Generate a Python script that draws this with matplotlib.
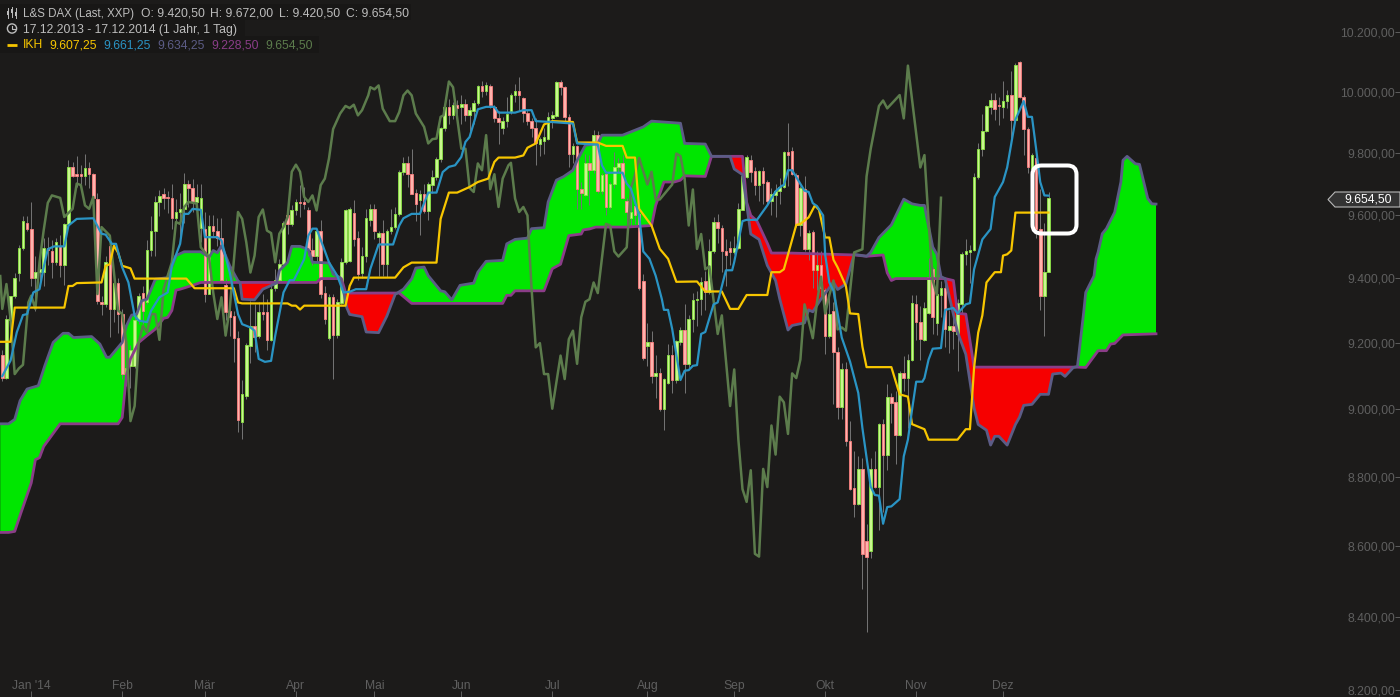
import matplotlib
matplotlib.use("Agg")
import matplotlib.pyplot as plt
import numpy as np
from matplotlib.patches import Circle, FancyBboxPatch, Polygon, Rectangle
from matplotlib.ticker import NullLocator
from matplotlib.transforms import Affine2D

plt.rcParams["font.family"] = ["Liberation Sans", "DejaVu Sans"]

# --- Candles (L&S DAX, one per session) ---
opens = [
    9165, 9095, 9270, 9345, 9415, 9495, 9575, 9555, 9400, 9420,
    9420, 9495, 9485, 9450, 9500, 9440, 9570, 9755, 9730, 9730,
    9725, 9750, 9730, 9650, 9325, 9320, 9500, 9305, 9385, 9290,
    9100, 9130, 9130, 9270, 9355, 9325, 9490, 9550, 9640, 9665,
    9658, 9655, 9590, 9610, 9620, 9700, 9685, 9640, 9558, 9555,
    9350, 9565, 9550, 9525, 9380, 9297, 9282, 9217, 8962, 9040,
    9192, 9253, 9223, 9294, 9294, 9210, 9369, 9395, 9445, 9600,
    9570, 9615, 9642, 9640, 9616, 9490, 9470, 9550, 9354, 9217,
    9342, 9225, 9323, 9452, 9455, 9606, 9527, 9416, 9469, 9582,
    9619, 9531, 9543, 9444, 9547, 9561, 9603, 9737, 9765, 9731,
    9670, 9646, 9665, 9611, 9695, 9722, 9778, 9879, 9950, 9922,
    9957, 9948, 9961, 9922, 9935, 9963, 10019, 10003, 10019, 9950,
    9914, 9881, 9902, 9935, 9988, 10004, 9979, 9930, 9902, 9881,
    9828, 9838, 9843, 9914, 9921, 10033, 10017, 9918, 9795, 9822,
    9684, 9663, 9768, 9743, 9858, 9676, 9732, 9625, 9700, 9752,
    9768, 9645, 9590, 9628, 9601, 9390, 9190, 9202, 9100, 9108,
    9002, 9080, 9163, 9088, 9204, 9241, 9135, 9274, 9331, 9336,
    9390, 9357, 9487, 9577, 9559, 9485, 9496, 9483, 9496, 9615,
    9720, 9777, 9740, 9696, 9740, 9705, 9645, 9663, 9675, 9690,
    9801, 9806, 9729, 9568, 9681, 9492, 9545, 9425, 9442, 9365,
    9223, 9300, 9172, 9007, 9121, 8907, 8768, 8721, 8824, 8616,
    8587, 8825, 8771, 8955, 8864, 9038, 9021, 8924, 9110, 9093,
    9150, 9319, 9266, 9211, 9293, 9430, 9262, 9348, 9370, 9240,
    9251, 9228, 9319, 9477, 9483, 9489, 9720, 9812, 9872, 9951,
    9972, 9956, 9951, 9969, 9989, 9906, 10100, 9984, 9878, 9748,
    9782, 9554, 9344, 9420.5,
]
highs = [
    9180, 9285, 9345, 9415, 9505, 9595, 9595, 9640, 9470, 9480,
    9525, 9530, 9520, 9525, 9535, 9575, 9775, 9770, 9790, 9760,
    9795, 9770, 9735, 9670, 9345, 9470, 9520, 9400, 9400, 9305,
    9130, 9195, 9280, 9355, 9375, 9520, 9595, 9660, 9680, 9685,
    9675, 9700, 9650, 9670, 9735, 9710, 9715, 9700, 9700, 9610,
    9598, 9600, 9590, 9590, 9400, 9340, 9300, 9238, 9087, 9200,
    9330, 9320, 9325, 9350, 9335, 9385, 9430, 9460, 9580, 9635,
    9630, 9650, 9695, 9690, 9625, 9525, 9555, 9582, 9375, 9350,
    9350, 9335, 9465, 9620, 9625, 9648, 9550, 9497, 9620, 9635,
    9635, 9550, 9584, 9555, 9620, 9625, 9745, 9786, 9790, 9813,
    9682, 9680, 9700, 9705, 9745, 9785, 9885, 9965, 9977, 9965,
    9972, 9988, 9975, 9950, 9972, 10023, 10037, 10033, 10025, 9955,
    9935, 9917, 9982, 9995, 10027, 10048, 9982, 9940, 9912, 9912,
    9850, 9880, 9932, 9935, 10036, 10040, 10020, 9925, 9830, 9826,
    9705, 9797, 9792, 9875, 9870, 9735, 9742, 9705, 9802, 9782,
    9792, 9655, 9660, 9635, 9610, 9413, 9263, 9238, 9163, 9125,
    9095, 9197, 9195, 9210, 9250, 9320, 9285, 9353, 9359, 9405,
    9422, 9522, 9592, 9604, 9568, 9522, 9516, 9534, 9639, 9735,
    9792, 9792, 9752, 9745, 9752, 9712, 9687, 9699, 9719, 9806,
    9896, 9818, 9735, 9693, 9723, 9551, 9551, 9487, 9487, 9370,
    9348, 9325, 9189, 9139, 9144, 8966, 8877, 8861, 8857, 8665,
    8855, 8877, 8960, 8971, 9077, 9049, 9055, 9115, 9161, 9166,
    9348, 9348, 9314, 9325, 9463, 9435, 9370, 9393, 9393, 9302,
    9302, 9336, 9482, 9522, 9505, 9735, 9832, 9926, 9957, 9996,
    9996, 9981, 10035, 10005, 10070, 10095, 10102, 9990, 9884, 9800,
    9790, 9683, 9574, 9672,
]
lows = [
    9085, 9090, 9210, 9340, 9390, 9490, 9550, 9375, 9300, 9380,
    9375, 9440, 9400, 9440, 9405, 9380, 9560, 9720, 9690, 9700,
    9695, 9685, 9620, 9320, 9285, 9310, 9220, 9265, 9230, 9090,
    9070, 9065, 9125, 9260, 9260, 9320, 9470, 9470, 9595, 9620,
    9605, 9555, 9570, 9530, 9575, 9625, 9610, 9620, 9515, 9325,
    9350, 9530, 9500, 9390, 9270, 9222, 9143, 8932, 8912, 9030,
    9140, 9174, 9215, 9270, 9180, 9205, 9360, 9385, 9440, 9540,
    9565, 9600, 9592, 9620, 9470, 9440, 9450, 9340, 9260, 9210,
    9090, 9215, 9320, 9445, 9450, 9500, 9395, 9400, 9450, 9566,
    9522, 9407, 9407, 9405, 9538, 9555, 9595, 9727, 9690, 9665,
    9580, 9535, 9605, 9585, 9670, 9710, 9770, 9870, 9895, 9910,
    9915, 9895, 9905, 9870, 9895, 9955, 9982, 9990, 9945, 9900,
    9828, 9860, 9885, 9925, 9966, 9935, 9900, 9890, 9850, 9760,
    9790, 9795, 9840, 9880, 9915, 9990, 9900, 9755, 9765, 9620,
    9620, 9660, 9630, 9735, 9670, 9665, 9598, 9620, 9685, 9738,
    9650, 9565, 9560, 9570, 9365, 9150, 9130, 9080, 9035, 8995,
    8940, 9075, 9050, 9080, 9195, 9050, 9125, 9234, 9251, 9285,
    9302, 9350, 9480, 9510, 9419, 9376, 9440, 9475, 9492, 9615,
    9717, 9705, 9663, 9645, 9633, 9633, 9598, 9592, 9633, 9685,
    9692, 9729, 9562, 9534, 9485, 9457, 9370, 9365, 9336, 9166,
    9217, 9016, 8971, 8971, 8890, 8763, 8684, 8718, 8479, 8358,
    8566, 8768, 8647, 8700, 8820, 8960, 8839, 8920, 9055, 8944,
    9145, 9211, 9150, 9205, 9290, 9229, 9225, 9280, 9189, 9170,
    9183, 9116, 9291, 9440, 9384, 9485, 9716, 9788, 9866, 9927,
    9908, 9890, 9914, 9945, 9842, 9900, 9980, 9792, 9734, 9740,
    9525, 9303, 9223, 9420.5,
]
closes = [
    9095, 9275, 9345, 9400, 9495, 9580, 9555, 9400, 9420, 9430,
    9495, 9490, 9450, 9515, 9440, 9570, 9755, 9725, 9725, 9725,
    9750, 9730, 9655, 9330, 9320, 9450, 9305, 9385, 9290, 9105,
    9125, 9180, 9270, 9345, 9300, 9490, 9550, 9640, 9660, 9655,
    9653, 9590, 9610, 9620, 9700, 9685, 9640, 9657, 9655, 9350,
    9565, 9550, 9525, 9395, 9295, 9280, 9217, 8968, 9047, 9195,
    9253, 9220, 9295, 9288, 9210, 9368, 9395, 9445, 9575, 9570,
    9615, 9640, 9637, 9635, 9490, 9470, 9550, 9350, 9274, 9342,
    9225, 9325, 9452, 9614, 9619, 9523, 9413, 9469, 9590, 9619,
    9547, 9543, 9444, 9548, 9561, 9603, 9737, 9765, 9730, 9668,
    9633, 9665, 9611, 9697, 9722, 9778, 9881, 9950, 9922, 9957,
    9946, 9961, 9922, 9938, 9964, 10019, 10003, 10023, 9955, 9914,
    9900, 9902, 9928, 9988, 10004, 9988, 9930, 9902, 9881, 9830,
    9845, 9850, 9915, 9923, 10033, 10015, 9918, 9795, 9822, 9682,
    9671, 9768, 9743, 9858, 9676, 9727, 9625, 9700, 9752, 9768,
    9655, 9609, 9610, 9598, 9370, 9154, 9202, 9100, 9108, 9002,
    9090, 9163, 9088, 9205, 9241, 9135, 9274, 9331, 9336, 9388,
    9357, 9487, 9577, 9557, 9485, 9472, 9483, 9496, 9618, 9723,
    9785, 9738, 9696, 9740, 9702, 9645, 9665, 9677, 9690, 9801,
    9792, 9732, 9568, 9687, 9492, 9541, 9426, 9442, 9370, 9223,
    9289, 9172, 9007, 9121, 8907, 8765, 8721, 8824, 8577, 8571,
    8825, 8771, 8955, 8864, 9038, 9019, 8924, 9110, 9093, 9150,
    9323, 9265, 9214, 9309, 9405, 9280, 9350, 9370, 9242, 9251,
    9237, 9323, 9477, 9485, 9489, 9720, 9813, 9872, 9953, 9972,
    9942, 9953, 9969, 9989, 9906, 10090, 9984, 9878, 9752, 9791,
    9556, 9344, 9420, 9654.5,
]

# --- Ichimoku lines: session number and price at each corner ---
tenkan_x = [0, 2, 3.5, 5, 6, 7.5, 9, 10, 11, 12.5, 15, 16, 18, 22, 24, 25, 26.5, 27.5, 29, 30.5, 32, 33, 35, 36, 38, 40, 41, 43, 44, 45, 46, 48, 49, 52, 53, 55, 57, 58, 60, 61, 62, 63.5, 65, 66, 68, 69.5, 70.5, 73, 74, 75, 76, 79, 81, 82.5, 84, 85.5, 88, 89, 91, 94.5, 96, 97, 99, 101, 103, 105, 106.5, 108, 109.5, 111, 112, 113, 115, 117, 119, 120, 124, 126, 128, 129, 133, 138, 139, 144, 145, 146, 150, 151, 152, 154, 155, 156.5, 158, 159.5, 160, 161, 162, 164, 165, 166, 167, 168, 169, 170, 172, 173, 175, 176.5, 177, 179, 180, 182.5, 185, 187, 188.5, 189, 190, 191, 194, 195, 196, 197, 198.5, 199, 200, 201, 202, 203, 205, 207, 208, 210, 211, 212, 213, 214, 215, 217, 218, 219, 220, 221, 222.5, 223, 224, 225, 227, 228, 230, 231, 233, 234, 235, 237, 239, 240, 242, 243, 245, 247, 248, 249, 250, 251, 252, 253]
tenkan_y = [9100, 9147, 9233, 9286, 9289, 9356, 9366, 9434, 9491, 9500, 9500, 9566, 9587, 9589, 9540, 9537, 9508, 9508, 9434, 9387, 9284, 9269, 9264, 9300, 9341, 9356, 9439, 9508, 9603, 9603, 9619, 9616, 9529, 9529, 9519, 9418, 9289, 9258, 9248, 9238, 9152, 9143, 9146, 9223, 9356, 9394, 9394, 9460, 9534, 9556, 9556, 9450, 9408, 9356, 9358, 9366, 9366, 9429, 9506, 9506, 9566, 9589, 9603, 9603, 9671, 9671, 9737, 9754, 9759, 9786, 9835, 9851, 9942, 9950, 9950, 9931, 9931, 9939, 9939, 9903, 9900, 9895, 9830, 9826, 9759, 9735, 9735, 9700, 9684, 9598, 9484, 9461, 9408, 9335, 9302, 9302, 9243, 9088, 9116, 9118, 9131, 9133, 9228, 9234, 9319, 9325, 9425, 9425, 9451, 9580, 9584, 9584, 9630, 9675, 9693, 9695, 9743, 9743, 9677, 9673, 9637, 9628, 9598, 9473, 9387, 9361, 9291, 9217, 9144, 9049, 8944, 8772, 8748, 8746, 8665, 8713, 8715, 8736, 8861, 8910, 8999, 9083, 9083, 9094, 9150, 9183, 9185, 9302, 9308, 9291, 9319, 9323, 9428, 9522, 9555, 9657, 9705, 9752, 9908, 9969, 9917, 9917, 9813, 9705, 9662, 9661.25]

kijun_x = [-0.5, 2, 3, 15, 16, 17, 18, 24, 25, 26, 27, 28, 29, 31, 32, 44.5, 46.5, 56, 57, 58, 69, 70, 71, 72, 73, 82, 83, 84, 85, 95, 97, 99, 105, 106, 108, 110, 113, 115, 117.5, 119, 120, 124, 126, 127, 129, 131, 133, 138, 139, 144, 146, 150, 151, 153, 154, 157, 159, 161, 163, 168, 170, 174, 176, 178, 180, 185, 186, 188, 189, 192, 193, 195, 196.5, 197.5, 199, 200, 201, 202, 204, 205, 207, 208, 209, 215, 217, 219, 220, 223, 224, 231, 233, 234, 235, 236, 237, 238, 240, 241.5, 242, 243, 244, 245, 248, 253]
kijun_y = [9204, 9204, 9309, 9309, 9376, 9376, 9385, 9387, 9439, 9444, 9502, 9480, 9439, 9431, 9399, 9399, 9369, 9369, 9325, 9322, 9322, 9315, 9315, 9303, 9315, 9315, 9315, 9376, 9402, 9402, 9434, 9449, 9449, 9587, 9671, 9671, 9689, 9705, 9716, 9770, 9784, 9784, 9791, 9816, 9830, 9892, 9903, 9900, 9833, 9833, 9822, 9822, 9784, 9784, 9619, 9566, 9492, 9461, 9389, 9390, 9359, 9359, 9305, 9305, 9348, 9348, 9419, 9419, 9428, 9568, 9571, 9592, 9630, 9616, 9528, 9528, 9458, 9434, 9376, 9291, 9289, 9189, 9127, 9127, 9045, 9038, 8956, 8941, 8910, 8910, 8941, 8941, 9125, 9232, 9285, 9387, 9419, 9419, 9471, 9475, 9487, 9607, 9607, 9607.25]

chikou_x = [-0.5, 0, 1, 2, 3, 4, 5, 6.3, 7, 8, 9, 10, 11, 12, 14, 15, 17, 18, 19, 20, 21, 22, 23, 24, 26, 27, 28, 29, 30, 31, 32, 33, 34, 35, 36, 37, 38, 39, 41, 42, 43, 44, 45, 47, 48, 50, 51, 52, 53, 54, 55, 57, 58, 59, 60, 61, 62, 63, 64, 65, 66, 67, 68, 69, 70, 71, 72, 73, 74, 75, 76, 77, 78, 79, 80, 81.7, 83, 84, 85, 86, 87, 88.5, 89, 90, 91, 92, 93.7, 95, 96, 97, 98, 99, 100, 102, 103, 104, 105, 106, 106.7, 108, 109, 111, 112, 113, 114, 115, 116, 117, 118, 119, 120, 121, 122.4, 123, 124, 125, 126, 127, 128, 129, 130, 131, 132, 133, 135, 136, 137, 138, 139, 140, 141, 142, 143, 144, 146, 147, 148, 149, 151, 152, 153, 154, 156, 157, 158, 159, 162, 163, 164, 165, 166, 167, 168, 169, 170, 171, 173, 174, 176, 177, 178, 179, 180, 181, 182, 183, 184, 185, 186, 187, 188, 189, 190, 191, 192, 193, 194, 195, 196, 197, 198, 199, 200, 201, 202, 203, 204, 206, 208, 209, 210, 212, 213, 214, 217, 218, 219, 222, 223, 224, 225, 226, 227]
chikou_y = [9407, 9305, 9382, 9274, 9106, 9123, 9134, 9325, 9346, 9305, 9450, 9550, 9638, 9662, 9654, 9593, 9619, 9700, 9695, 9630, 9619, 9657, 9351, 9561, 9534, 9418, 9300, 9289, 9202, 8965, 9010, 9202, 9253, 9233, 9289, 9289, 9210, 9366, 9450, 9577, 9571, 9625, 9641, 9636, 9497, 9466, 9356, 9274, 9341, 9223, 9305, 9609, 9587, 9513, 9418, 9471, 9593, 9617, 9550, 9542, 9450, 9540, 9561, 9593, 9738, 9761, 9738, 9657, 9641, 9662, 9614, 9695, 9716, 9781, 9877, 9928, 9953, 9946, 9957, 9922, 9939, 9988, 10015, 10008, 10021, 9944, 9903, 9903, 9933, 9988, 10004, 9988, 9928, 9884, 9830, 9844, 9846, 9917, 9922, 10034, 10015, 9813, 9813, 9686, 9673, 9765, 9743, 9857, 9682, 9730, 9625, 9716, 9759, 9767, 9652, 9609, 9625, 9598, 9366, 9187, 9200, 9106, 9106, 9002, 9162, 9091, 9212, 9238, 9137, 9279, 9327, 9335, 9387, 9354, 9571, 9566, 9484, 9468, 9497, 9684, 9727, 9783, 9697, 9738, 9649, 9649, 9697, 9797, 9789, 9716, 9566, 9681, 9492, 9539, 9428, 9437, 9228, 9285, 9010, 9120, 8910, 8765, 8728, 8820, 8579, 8571, 8824, 8771, 8952, 8866, 9038, 9021, 8927, 9108, 9094, 9150, 9319, 9268, 9215, 9325, 9405, 9291, 9348, 9393, 9242, 9248, 9238, 9481, 9491, 9723, 9812, 9953, 9971, 9945, 9989, 9912, 10087, 9752, 9792, 9580, 9393, 9348, 9654.5]

span_a_x = [-0.5, 1.5, 3, 4.3, 6, 8.7, 10.3, 12.3, 14.7, 16, 17.2, 21.6, 23.6, 25.2, 26, 29, 30, 31.3, 32.5, 33.7, 35, 37, 40, 42, 44, 48, 50, 51, 52, 53, 55, 57, 57.5, 58, 61, 63, 66.3, 67, 69, 70, 72, 74, 75, 79, 80, 81.7, 82.6, 83.3, 84, 87, 88, 91, 93, 95, 97, 99, 100, 102, 103, 106, 107, 108.7, 109, 110.7, 114, 115, 117, 121, 122, 124, 127, 128, 131, 132, 134, 135.7, 138, 139, 141, 144, 145, 150, 153, 155, 157, 164, 165, 170, 171.5, 176, 177, 179, 181, 183, 185, 187, 188, 190, 191, 194, 195, 196, 198, 201, 202, 204, 206, 209, 210, 212, 215, 218, 220, 222, 223, 225, 226, 227, 228, 231, 233, 235, 236, 238, 239, 240, 241, 243, 245, 246, 247, 249, 251, 253, 254, 256, 257, 259, 260, 261.5, 262, 264, 264.5, 265, 266, 267, 269, 270.5, 271, 272, 274, 275, 277, 278, 279]
span_a_y = [8957, 8957, 8970, 9026, 9061, 9071, 9132, 9202, 9230, 9230, 9217, 9220, 9197, 9157, 9157, 9202, 9253, 9286, 9289, 9330, 9335, 9397, 9402, 9471, 9483, 9483, 9466, 9487, 9480, 9502, 9439, 9392, 9387, 9335, 9333, 9366, 9385, 9424, 9450, 9500, 9500, 9490, 9450, 9448, 9413, 9402, 9355, 9309, 9288, 9281, 9234, 9232, 9283, 9350, 9366, 9398, 9432, 9435, 9408, 9361, 9358, 9333, 9340, 9378, 9385, 9419, 9453, 9456, 9508, 9522, 9526, 9556, 9559, 9641, 9711, 9722, 9743, 9775, 9824, 9830, 9857, 9857, 9873, 9884, 9903, 9896, 9830, 9828, 9788, 9788, 9747, 9729, 9539, 9522, 9440, 9393, 9336, 9240, 9254, 9262, 9302, 9296, 9336, 9388, 9365, 9382, 9475, 9469, 9481, 9528, 9568, 9650, 9635, 9630, 9630, 9498, 9475, 9405, 9399, 9234, 9166, 9004, 8955, 8938, 8894, 8920, 8920, 8894, 8955, 8977, 9012, 9015, 9045, 9045, 9106, 9109, 9099, 9126, 9129, 9294, 9356, 9407, 9461, 9482, 9540, 9556, 9608, 9705, 9775, 9788, 9764, 9762, 9652, 9635, 9634.25]

span_b_x = [-0.5, 1.5, 3, 4.5, 7, 8, 9, 10, 14, 28, 29, 30, 31, 33, 35, 37, 39, 40, 41, 42, 43, 46, 48, 76, 77, 82, 83, 84, 96, 99, 121, 122, 123, 124, 131, 133, 135, 137, 140, 140.5, 142, 143.5, 151, 157, 158, 160, 162.5, 164, 165, 170, 171.5, 179, 180, 181, 182.5, 185, 186, 190.5, 206, 209, 213, 214, 215, 216, 228, 230, 231, 233, 235, 260, 262, 265, 267, 268, 269, 271, 279]
span_b_y = [8640, 8640, 8643, 8696, 8783, 8851, 8857, 8890, 8957, 8957, 8976, 9101, 9152, 9202, 9223, 9243, 9276, 9279, 9300, 9363, 9366, 9378, 9387, 9387, 9399, 9399, 9356, 9354, 9354, 9322, 9322, 9347, 9347, 9361, 9361, 9430, 9444, 9534, 9539, 9552, 9555, 9561, 9561, 9566, 9630, 9705, 9705, 9711, 9725, 9723, 9788, 9788, 9640, 9598, 9580, 9510, 9479, 9479, 9473, 9469, 9473, 9417, 9393, 9399, 9399, 9393, 9291, 9289, 9127, 9127, 9126, 9177, 9177, 9197, 9199, 9225, 9228.5]

# --- Axis labels ---
price_ticks = [10200, 10000, 9800, 9600, 9400, 9200, 9000, 8800, 8600, 8400, 8200]
month_ticks = [7, 29, 49, 71, 90, 111, 133, 156, 177, 199, 221, 242]
month_labels = ["Jan '14", "Feb", "Mär", "Apr", "Mai", "Jun", "Jul", "Aug", "Sep", "Okt", "Nov", "Dez"]
last_close = 9654.5
ikh_values = ["9.607,25", "9.661,25", "9.634,25", "9.228,50", "9.654,50"]

# --- Colours ---
BG = "#1c1b1a"
TEXT = "#bdbdbd"
AXIS_TEXT = "#5f5f5f"
YELLOW = "#f7c600"
BLUE = "#2a94c4"
SLATE = "#5c5c86"
MAGENTA = "#8b3d88"
CHIKOU = "#5c7c4c"
IKH_COLORS = [YELLOW, BLUE, SLATE, MAGENTA, CHIKOU]


def de_number(v):
    return f"{v:,.2f}".replace(",", "#").replace(".", ",").replace("#", ".")


fig = plt.figure(figsize=(14, 6.97), dpi=100, facecolor=BG)
ax = fig.add_axes([0, 0, 1, 1], facecolor=BG)
ax.set_yscale("log")
for spine in ax.spines.values():
    spine.set_visible(False)

# pixel coordinates for the overlay bits (origin top left)
px = Affine2D().scale(1 / 1400, -1 / 697).translate(0, 1) + fig.transFigure

# --- Cloud ---
grid = np.arange(-0.5, 279.01, 0.1)
a = np.interp(grid, span_a_x, span_a_y)
b = np.interp(grid, span_b_x, span_b_y)
ax.fill_between(grid, a, b, where=a >= b, interpolate=True, color="#00e600", lw=0, zorder=1)
ax.fill_between(grid, a, b, where=a <= b, interpolate=True, color="#f60000", lw=0, zorder=1)

# --- Candles ---
x = np.arange(len(closes))
o = np.array(opens)
c = np.array(closes)
up = c >= o
ax.vlines(x, lows, highs, color="#727272", lw=0.72, zorder=2)
ax.bar(x[up], (c - o)[up], bottom=o[up], width=0.62, color="#c9f78f", edgecolor="#8be544", lw=0.6, zorder=3)
ax.bar(x[~up], (o - c)[~up], bottom=c[~up], width=0.62, color="#ffb3ad", edgecolor="#fa7f7f", lw=0.6, zorder=3)

# --- Ichimoku lines ---
ax.plot(span_b_x, span_b_y, color=MAGENTA, lw=2.0, zorder=4)
ax.plot(span_a_x, span_a_y, color=SLATE, lw=2.0, zorder=4)
ax.plot(chikou_x, chikou_y, color=CHIKOU, lw=1.8, zorder=5)
ax.plot(kijun_x, kijun_y, color=YELLOW, lw=1.6, zorder=6)
ax.plot(tenkan_x, tenkan_y, color=BLUE, lw=1.6, zorder=6)

# --- Axes ticks, drawn inside the figure edge ---
ax.yaxis.set_minor_locator(NullLocator())
ax.yaxis.tick_right()
ax.set_yticks(price_ticks)
ax.set_yticklabels([de_number(v) for v in price_ticks], ha="right", fontsize=8.7, color=AXIS_TEXT)
ax.tick_params(axis="y", which="major", direction="in", length=3.5, width=0.7, color=AXIS_TEXT, pad=-3.5)
ax.set_xticks(month_ticks)
ax.set_xticklabels(month_labels, fontsize=8.7, color=AXIS_TEXT)
ax.tick_params(axis="x", direction="in", length=4, width=0.7, color=AXIS_TEXT, pad=-12)

# --- Marker box ---
ax.add_patch(FancyBboxPatch((1032.5, 165.5), 44, 68, boxstyle="round,pad=0,rounding_size=9",
                            fc="none", ec="white", lw=2.9, transform=px, clip_on=False, zorder=8))

# --- Last price tag ---
ax.add_patch(Polygon([(1328, 199.5), (1335, 192), (1400, 192), (1400, 207), (1335, 207)], closed=True,
                     fc="#333333", ec="#b8b8b8", lw=0.8, transform=px, clip_on=False, zorder=8))
ax.text(1368, 200, de_number(last_close), color="white", fontsize=8.7, ha="center", va="center",
        transform=px, zorder=9)

# --- Header ---
ax.add_patch(Rectangle((0, 4), 411, 16, fc="#181716", ec="none", transform=px, zorder=7))
ax.add_patch(Rectangle((0, 20), 245, 16, fc="#181716", ec="none", transform=px, zorder=7))
ax.add_patch(Rectangle((0, 36), 319, 17, fc="#181716", ec="none", transform=px, zorder=7))

header = [
    (23, 13.5, "L&S DAX (Last, XXP)", 8.3), (141, 13.5, "O: 9.420,50", 8.7), (210, 13.5, "H: 9.672,00", 8.7),
    (279, 13.5, "L: 9.420,50", 8.7), (346, 13.5, "C: 9.654,50", 8.7),
    (23, 29.5, "17.12.2013 - 17.12.2014 (1 Jahr, 1 Tag)", 8.8),
]
for hx, hy, label, size in header:
    ax.text(hx, hy, label, color=TEXT, fontsize=size, va="center", transform=px, zorder=8)
ax.text(23, 45.5, "IKH", color=YELLOW, fontsize=8.7, va="center", transform=px, zorder=8)
for hx, label, col in zip([49, 103, 157, 211, 265], ikh_values, IKH_COLORS):
    ax.text(hx, 45.5, label, color=col, fontsize=8.7, va="center", transform=px, zorder=8)

# small icons
for ix, top, bot, bt, bb in [(7.5, 8, 18, 11, 15), (11.5, 7, 17, 9, 13), (15.5, 8, 18, 12, 16)]:
    ax.plot([ix, ix], [top, bot], color=TEXT, lw=0.7, transform=px, zorder=8)
    ax.add_patch(Rectangle((ix - 1, bt), 2, bb - bt, fc=TEXT, ec="none", transform=px, zorder=8))
ax.add_patch(Circle((12, 28.5), 4.6, fc="none", ec=TEXT, lw=1, transform=px, zorder=8))
ax.plot([12, 12, 15], [25.5, 29, 29], color=TEXT, lw=0.8, transform=px, zorder=8)
ax.plot([7, 17], [45, 45], color=YELLOW, lw=2, transform=px, solid_capstyle="butt", zorder=8)

ax.set_xlim(-0.556, 338.0)
ax.set_ylim(8181, 10309)
fig.savefig("out.png", dpi=100, facecolor=BG)
